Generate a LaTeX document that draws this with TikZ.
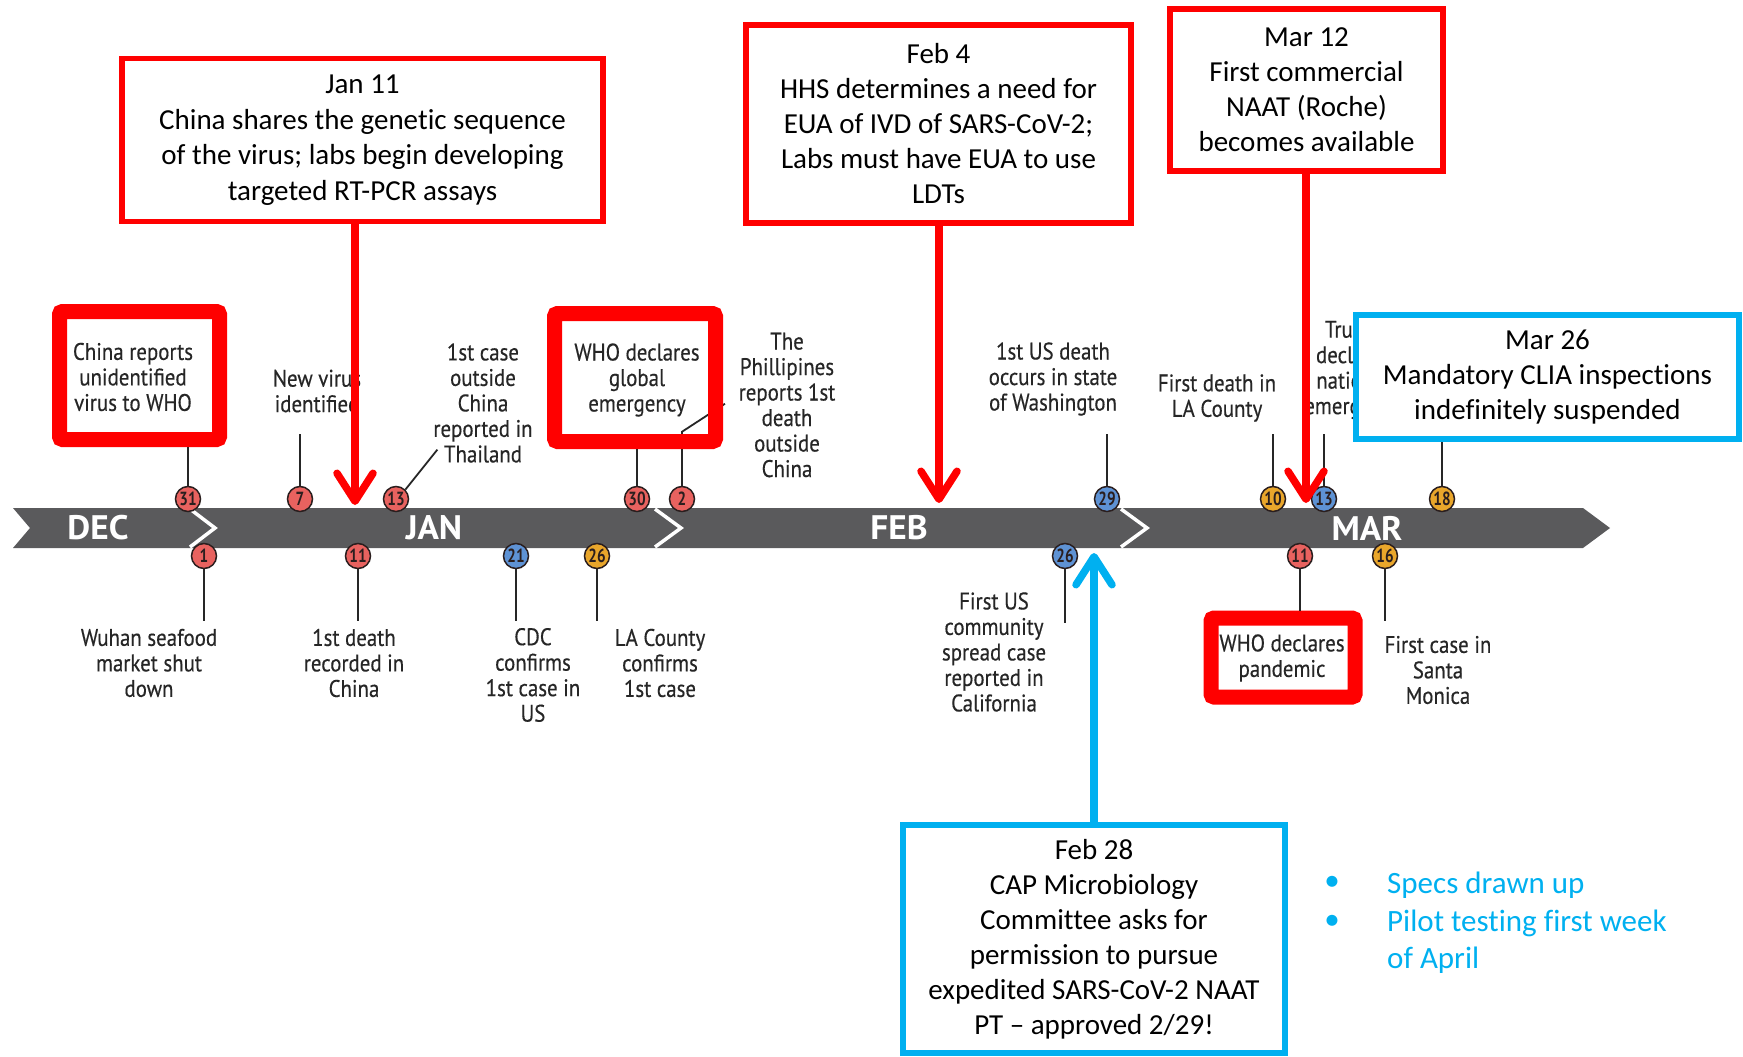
\documentclass[tikz,border=0pt]{standalone}
\usepackage{fontspec}
\setmainfont{Carlito}[Ligatures={TeX,NoCommon}]
\newfontfamily\tlfont[FakeStretch=0.87,FakeBold=0.4]{PT Sans}
\newfontfamily\numfont[FakeStretch=0.8]{PT Sans}
\newfontfamily\monthfont[FakeStretch=1.04]{PT Sans}
\usetikzlibrary{arrows.meta}

\definecolor{barGray}{HTML}{5A5A5C}
\definecolor{pptRed}{HTML}{FF0000}
\definecolor{pptCyan}{HTML}{00B0F0}
\definecolor{dotRed}{HTML}{E8625F}
\definecolor{dotBlue}{HTML}{5E92D4}
\definecolor{dotGold}{HTML}{E9A62B}
\definecolor{dotEdge}{HTML}{2A1E1E}
\definecolor{inkGray}{HTML}{262626}

\begin{document}
\begin{tikzpicture}[x=1pt,y=-1pt,
  barfill/.style={fill=barGray,draw=none},
  chev/.style={draw=white,line width=3.5,line join=miter},
  monthlbl/.style={text=white,inner sep=0,font=\monthfont\bfseries\fontsize{34}{34}\selectfont},
  tdot/.style={circle,draw=dotEdge,line width=1.5,minimum size=25,inner sep=0,
    text=dotEdge,font=\numfont\bfseries\fontsize{19}{19}\selectfont},
  rdot/.style={tdot,fill=dotRed},
  bdot/.style={tdot,fill=dotBlue},
  gdot/.style={tdot,fill=dotGold},
  stemline/.style={draw=inkGray,line width=1.8},
  lbl/.style={align=center,inner sep=0,text=inkGray,font=\tlfont\fontsize{24}{25.5}\selectfont},
  hlframe/.style={draw=pptRed,line width=15,rounded corners=3,inner sep=0},
  evbox/.style={line width=5.5,fill=white,align=center,inner sep=0,
    font=\fontsize{29}{35}\selectfont},
  evred/.style={evbox,draw=pptRed},
  evcyan/.style={evbox,draw=pptCyan},
  callred/.style={draw=pptRed,line width=7.5,-{Straight Barb[length=28pt,width=36pt,round]}},
  callcyan/.style={draw=pptCyan,line width=7.5,-{Straight Barb[length=28pt,width=36pt,round]}},
  specs/.style={text=pptCyan,inner sep=0,align=left,font=\fontsize{31}{37}\selectfont}
]
\useasboundingbox (0,0) rectangle (1743,1057);

% timeline band with month separators
\fill[barfill] (13,508) -- (1583,508) -- (1610,528) -- (1583,548) -- (13,548) -- (30,528) -- cycle;
\draw[chev] (190,509) -- (215,528) -- (190,547);
\draw[chev] (655,509) -- (681,528) -- (655,547);
\draw[chev] (1121,509) -- (1147,528) -- (1121,547);

\node[monthlbl] (mDec) at (98,528) {DEC};
\node[monthlbl] (mJan) at (434,528) {JAN};
\node[monthlbl] (mFeb) at (899,528) {FEB};
\node[monthlbl] (mMar) at (1367,528) {MAR};

% day markers above the band
\node[rdot] (c31)  at (188,499)  {31};
\node[rdot] (c7)   at (300,499)  {7};
\node[rdot] (c13)  at (396,499)  {13};
\node[rdot] (c30)  at (637,499)  {30};
\node[rdot] (c2)   at (682,499)  {2};
\node[bdot] (c29)  at (1107,499) {29};
\node[gdot] (c10)  at (1273,499) {10};
\node[bdot] (c13m) at (1324,499) {13};
\node[gdot] (c18)  at (1442,499) {18};

% day markers below the band
\node[rdot] (c1)   at (204,556)  {1};
\node[rdot] (c11)  at (358,556)  {11};
\node[bdot] (c21)  at (516,556)  {21};
\node[gdot] (c26)  at (597,556)  {26};
\node[bdot] (c26f) at (1065,556) {26};
\node[rdot] (c11m) at (1300,556) {11};
\node[gdot] (c16)  at (1385,556) {16};

% event labels
\node[lbl] (tChina)  at (133,377)   {China reports\\unidentified\\virus to WHO};
\node[lbl] (tVirus)  at (317,391)   {New virus\\identified};
\node[lbl] (tThai)   at (483,403)   {1st case\\outside\\China\\reported in\\Thailand};
\node[lbl] (tGlobal) at (637,380)   {WHO declares\\global\\emergency};
\node[lbl] (tPhil)   at (787,405)   {The\\Phillipines\\reports 1st\\death\\outside\\China};
\node[lbl] (tWash)   at (1053,379)  {1st US death\\occurs in state\\of Washington};
\node[lbl] (tLAdeath) at (1217,398) {First death in\\LA County};
\node[lbl] (tTrump)  at (1353,370)  {Trump\\declares\\national\\emergency};
\node[lbl] (tWuhan)  at (149,663)   {Wuhan seafood\\market shut\\down};
\node[lbl] (tDeath)  at (354,663)   {1st death\\recorded in\\China};
\node[lbl] (tCDC)    at (533,675)   {CDC\\confirms\\1st case in\\US};
\node[lbl] (tLAcase) at (660,663)   {LA County\\confirms\\1st case};
\node[lbl] (tComm)   at (994,652)   {First US\\community\\spread case\\reported in\\California};
\node[lbl] (tPand)   at (1282,658)  {WHO declares\\pandemic};
\node[lbl] (tSanta)  at (1438,670)  {First case in\\Santa\\Monica};

% the Phillipines leader runs underneath the emergency frame
\draw[stemline] (c2.north) -- ++(0,-54) -- ++(43,-28);

% highlight frames
\node[hlframe,minimum width=160,minimum height=128] (hlChina) at (139.5,375.5) {};
\node[hlframe,minimum width=161,minimum height=128] (hlWho)   at (635,377.5) {};
\node[hlframe,minimum width=144,minimum height=79]  (hlPand)  at (1283,657.5) {};

% callout boxes
\node[evred,minimum width=481,minimum height=163,font=\fontsize{29}{35.5}\selectfont] (jan11) at (362.5,140)
  {Jan 11\\China shares the genetic sequence\\of the virus; labs begin developing\\targeted RT-PCR assays};
\node[evred,minimum width=385,minimum height=198] (feb4) at (938.5,124)
  {Feb 4\\HHS determines a need for\\EUA of IVD of SARS-CoV-2;\\Labs must have EUA to use\\LDTs};
\node[evred,minimum width=273,minimum height=162] (mar12) at (1306.5,90)
  {Mar 12\\First commercial\\NAAT (Roche)\\becomes available};
\node[evcyan,minimum width=383,minimum height=124] (mar26) at (1547.5,377)
  {Mar 26\\Mandatory CLIA inspections\\indefinitely suspended};
\node[evcyan,minimum width=382,minimum height=228] (feb28) at (1094,939)
  {Feb 28\\CAP Microbiology\\Committee asks for\\permission to pursue\\expedited SARS-CoV-2 NAAT\\PT – approved 2/29!};

% marker stems
\draw[stemline] (c31.north) -- (c31.north |- hlChina.south);
\draw[stemline] (c7.north) -- ++(0,-52);
\draw[stemline] (c13.north east) -- ++(32,-40);
\draw[stemline] (c30.north) -- (c30.north |- hlWho.south);
\draw[stemline] (c29.north) -- ++(0,-52);
\draw[stemline] (c10.north) -- ++(0,-52);
\draw[stemline] (c13m.north) -- ++(0,-52);
\draw[stemline] (c18.north) -- (c18.north |- mar26.south);
\draw[stemline] (c1.south) -- ++(0,52);
\draw[stemline] (c11.south) -- ++(0,52);
\draw[stemline] (c21.south) -- ++(0,52);
\draw[stemline] (c26.south) -- ++(0,52);
\draw[stemline] (c26f.south) -- ++(0,54);
\draw[stemline] (c11m.south) -- (c11m.south |- hlPand.north);
\draw[stemline] (c16.south) -- ++(0,52);

% callout arrows
\coordinate (janTip) at (355,505);
\coordinate (febTip) at (939,503);
\coordinate (marTip) at (1306,503);
\coordinate (capTip) at (1094,553);
\draw[callred] (jan11.south -| janTip) -- (janTip);
\draw[callred] (feb4.south -| febTip) -- (febTip);
\draw[callred] (mar12.south -| marTip) -- (marTip);
\draw[callcyan] (feb28.north -| capTip) -- (capTip);

% proficiency testing notes
\node[text=pptCyan,inner sep=0,font=\fontsize{31}{31}\selectfont] (b1) at (1332,883) {•};
\node[text=pptCyan,inner sep=0,font=\fontsize{31}{31}\selectfont] (b2) at (1332,922) {•};
\node[specs,anchor=base west] (s1) at (1387,893) {Specs drawn up};
\node[specs,anchor=north west] (s2) at (1387,910) {Pilot testing first week\\of April};
\end{tikzpicture}
\end{document}
